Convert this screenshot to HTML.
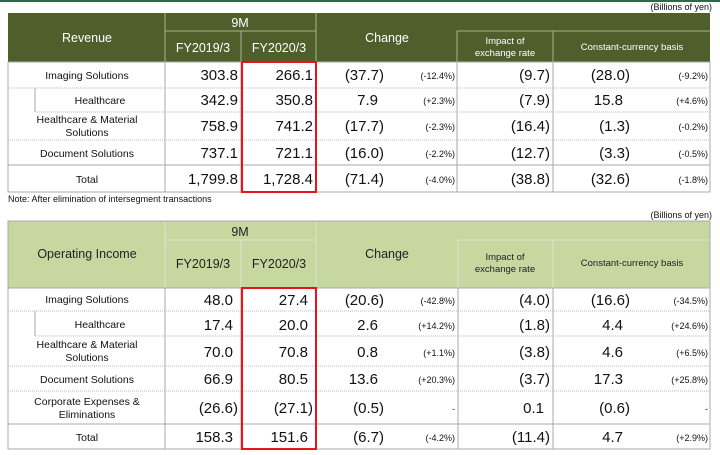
<!DOCTYPE html>
<html><head><meta charset="utf-8"><style>
html,body{margin:0;padding:0;background:#fff;}
svg{display:block;font-family:"Liberation Sans",Arial,sans-serif;}
.n{font-size:15px;fill:#111;}
.l{font-size:10.5px;fill:#111;}
.p{font-size:9px;fill:#111;}
.ht{font-size:12.5px;fill:#fff;}
.hs{font-size:9.5px;fill:#fff;}
.bt{font-size:12.5px;fill:#222;}
.bs{font-size:9.5px;fill:#222;}
</style></head><body>
<svg width="720" height="455" viewBox="0 0 720 455">
<rect x="0" y="0" width="720" height="2" fill="#2d6a4a"/>
<text x="712" y="10" text-anchor="end" class="p">(Billions of yen)</text>

<rect x="8" y="13" width="702" height="49" fill="#4f5f2c"/>
<g stroke="#a8b190" stroke-width="1" fill="none">
<line x1="165" y1="13" x2="165" y2="62"/>
<line x1="316" y1="13" x2="316" y2="62"/>
<line x1="165" y1="31" x2="316" y2="31"/>
<line x1="241" y1="31" x2="241" y2="62"/>
<line x1="457" y1="31" x2="710" y2="31"/>
<line x1="457" y1="31" x2="457" y2="62"/>
<line x1="553" y1="31" x2="553" y2="62"/>
</g>
<text x="87" y="42" text-anchor="middle" class="ht">Revenue</text>
<text x="240" y="27" text-anchor="middle" class="ht">9M</text>
<text x="203" y="52" text-anchor="middle" class="ht">FY2019/3</text>
<text x="279" y="52" text-anchor="middle" class="ht">FY2020/3</text>
<text x="387" y="42" text-anchor="middle" class="ht">Change</text>
<text x="505" y="44" text-anchor="middle" class="hs">Impact of</text>
<text x="505" y="56" text-anchor="middle" class="hs">exchange rate</text>
<text x="632" y="50" text-anchor="middle" class="hs">Constant-currency basis</text>

<g stroke="#aaa" stroke-width="1" fill="none">
<rect x="8" y="62" width="702" height="130"/>
<line x1="165" y1="62" x2="165" y2="192"/>
<line x1="241" y1="62" x2="241" y2="192"/>
<line x1="457" y1="62" x2="457" y2="192"/>
<line x1="553" y1="62" x2="553" y2="192"/>
<line x1="35" y1="88" x2="35" y2="112"/>
<line x1="8" y1="165" x2="710" y2="165"/>
</g>
<g stroke="#bbb" stroke-width="1" stroke-dasharray="1,1">
<line x1="8" y1="88" x2="710" y2="88"/>
<line x1="35" y1="112" x2="710" y2="112"/>
<line x1="8" y1="140" x2="710" y2="140"/>
</g>
<g class="l" text-anchor="middle">
<text x="87" y="79">Imaging Solutions</text>
<text x="100" y="104">Healthcare</text>
<text x="87" y="123">Healthcare &amp; Material</text>
<text x="87" y="136">Solutions</text>
<text x="87" y="157">Document Solutions</text>
<text x="87" y="183">Total</text>
</g>
<g class="n" text-anchor="end">
<text x="238" y="80">303.8</text><text x="313" y="80">266.1</text>
<text x="238" y="105">342.9</text><text x="313" y="105">350.8</text>
<text x="238" y="131">758.9</text><text x="313" y="131">741.2</text>
<text x="238" y="158">737.1</text><text x="313" y="158">721.1</text>
<text x="238" y="184">1,799.8</text><text x="313" y="184">1,728.4</text>
<text x="384" y="80">(37.7)</text><text x="378" y="105">7.9</text>
<text x="384" y="131">(17.7)</text><text x="384" y="158">(16.0)</text>
<text x="384" y="184">(71.4)</text>
<text x="550" y="80">(9.7)</text><text x="550" y="105">(7.9)</text>
<text x="550" y="131">(16.4)</text><text x="550" y="158">(12.7)</text>
<text x="550" y="184">(38.8)</text>
<text x="630" y="80">(28.0)</text><text x="623" y="105">15.8</text>
<text x="630" y="131">(1.3)</text><text x="630" y="158">(3.3)</text>
<text x="630" y="184">(32.6)</text>
</g>
<g class="p" text-anchor="end">
<text x="455" y="79">(-12.4%)</text><text x="455" y="104">(+2.3%)</text>
<text x="455" y="130">(-2.3%)</text><text x="455" y="157">(-2.2%)</text>
<text x="455" y="183">(-4.0%)</text>
<text x="708" y="79">(-9.2%)</text><text x="708" y="104">(+4.6%)</text>
<text x="708" y="130">(-0.2%)</text><text x="708" y="157">(-0.5%)</text>
<text x="708" y="183">(-1.8%)</text>
</g>
<rect x="242" y="62" width="74" height="130" fill="none" stroke="#e8141c" stroke-width="2"/>
<text x="8" y="202" class="p">Note: After elimination of  intersegment transactions</text>

<text x="712" y="218" text-anchor="end" class="p">(Billions of yen)</text>
<rect x="8" y="221" width="702" height="67" fill="#c6d7a0"/>
<g stroke="#dfe6cf" stroke-width="1" fill="none">
<line x1="165" y1="221" x2="165" y2="288"/>
<line x1="316" y1="221" x2="316" y2="288"/>
<line x1="165" y1="240" x2="316" y2="240"/>
<line x1="241" y1="240" x2="241" y2="288"/>
<line x1="458" y1="240" x2="710" y2="240"/>
<line x1="458" y1="240" x2="458" y2="288"/>
<line x1="553" y1="240" x2="553" y2="288"/>
</g>
<g stroke="#aaa" fill="none"><rect x="8" y="221" width="702" height="67"/></g>
<text x="87" y="258" text-anchor="middle" class="bt">Operating Income</text>
<text x="240" y="236" text-anchor="middle" class="bt">9M</text>
<text x="203" y="268" text-anchor="middle" class="bt">FY2019/3</text>
<text x="279" y="268" text-anchor="middle" class="bt">FY2020/3</text>
<text x="387" y="258" text-anchor="middle" class="bt">Change</text>
<text x="505" y="260" text-anchor="middle" class="bs">Impact of</text>
<text x="505" y="272" text-anchor="middle" class="bs">exchange rate</text>
<text x="632" y="266" text-anchor="middle" class="bs">Constant-currency basis</text>

<g stroke="#aaa" stroke-width="1" fill="none">
<rect x="8" y="288" width="702" height="161"/>
<line x1="165" y1="288" x2="165" y2="449"/>
<line x1="241" y1="288" x2="241" y2="449"/>
<line x1="458" y1="288" x2="458" y2="449"/>
<line x1="553" y1="288" x2="553" y2="449"/>
<line x1="35" y1="311" x2="35" y2="336"/>
<line x1="8" y1="424" x2="710" y2="424"/>
</g>
<g stroke="#bbb" stroke-width="1" stroke-dasharray="1,1">
<line x1="8" y1="311" x2="710" y2="311"/>
<line x1="35" y1="336" x2="710" y2="336"/>
<line x1="8" y1="366" x2="710" y2="366"/>
<line x1="8" y1="391" x2="710" y2="391"/>
</g>
<g class="l" text-anchor="middle">
<text x="87" y="303">Imaging Solutions</text>
<text x="100" y="328">Healthcare</text>
<text x="87" y="348">Healthcare &amp; Material</text>
<text x="87" y="361">Solutions</text>
<text x="87" y="383">Document Solutions</text>
<text x="87" y="405">Corporate Expenses &amp;</text>
<text x="87" y="418">Eliminations</text>
<text x="87" y="441">Total</text>
</g>
<g class="n" text-anchor="end">
<text x="233" y="305">48.0</text><text x="308" y="305">27.4</text>
<text x="233" y="330">17.4</text><text x="308" y="330">20.0</text>
<text x="233" y="357">70.0</text><text x="308" y="357">70.8</text>
<text x="233" y="384">66.9</text><text x="308" y="384">80.5</text>
<text x="238" y="413">(26.6)</text><text x="313" y="413">(27.1)</text>
<text x="233" y="442">158.3</text><text x="308" y="442">151.6</text>
<text x="384" y="305">(20.6)</text><text x="378" y="330">2.6</text>
<text x="378" y="357">0.8</text><text x="378" y="384">13.6</text>
<text x="384" y="413">(0.5)</text><text x="384" y="442">(6.7)</text>
<text x="550" y="305">(4.0)</text><text x="550" y="330">(1.8)</text>
<text x="550" y="357">(3.8)</text><text x="550" y="384">(3.7)</text>
<text x="544" y="413">0.1</text><text x="550" y="442">(11.4)</text>
<text x="630" y="305">(16.6)</text><text x="623" y="330">4.4</text>
<text x="623" y="357">4.6</text><text x="623" y="384">17.3</text>
<text x="630" y="413">(0.6)</text><text x="623" y="442">4.7</text>
</g>
<g class="p" text-anchor="end">
<text x="455" y="304">(-42.8%)</text><text x="455" y="329">(+14.2%)</text>
<text x="455" y="356">(+1.1%)</text><text x="455" y="383">(+20.3%)</text>
<text x="455" y="412">-</text><text x="455" y="441">(-4.2%)</text>
<text x="708" y="304">(-34.5%)</text><text x="708" y="329">(+24.6%)</text>
<text x="708" y="356">(+6.5%)</text><text x="708" y="383">(+25.8%)</text>
<text x="708" y="412">-</text><text x="708" y="441">(+2.9%)</text>
</g>
<rect x="242" y="288" width="74" height="161" fill="none" stroke="#e8141c" stroke-width="2"/>
</svg>
</body></html>
